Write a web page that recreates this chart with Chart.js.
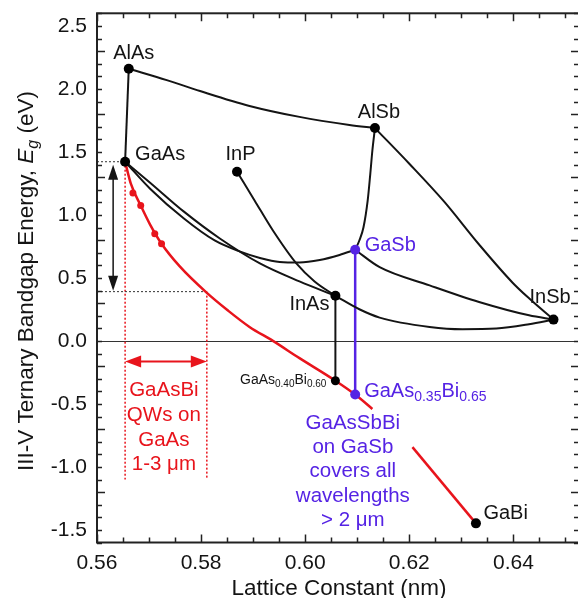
<!DOCTYPE html>
<html>
<head>
<meta charset="utf-8">
<script src="https://cdn.jsdelivr.net/npm/chart.js@4.4.0/dist/chart.umd.min.js"></script>
<style>
  html, body { margin: 0; padding: 0; background: #fff; overflow: hidden; }
  #wrap { width: 584px; height: 598px; }
</style>
</head>
<body>
<div id="wrap"><canvas id="chart" width="584" height="598"></canvas></div>
<script>
// Binary compounds: lattice constant (nm) and bandgap (eV)
const binaryNames = ["AlAs", "GaAs", "InP", "AlSb", "GaSb", "InAs", "InSb", "GaBi"];
const binaryLattice = [0.5661, 0.5654, 0.5869, 0.6134, 0.6096, 0.6058, 0.6477, 0.6328];
const binaryGap = [2.160, 1.422, 1.343, 1.689, 0.723, 0.358, 0.169, -1.448];

// Ternary curves
const alasGaasA = [0.5661, 0.5654];
const alasGaasEg = [2.160, 1.422];
const alasAlsbA = [0.5661, 0.5734, 0.5798, 0.5893, 0.5989, 0.6085, 0.6134];
const alasAlsbEg = [2.160, 2.070, 1.983, 1.865, 1.778, 1.714, 1.689];
const alsbGasbA = [0.6134, 0.6129, 0.6125, 0.6120, 0.6112, 0.6104, 0.6096];
const alsbGasbEg = [1.689, 1.509, 1.324, 1.113, 0.902, 0.797, 0.723];
const alsbInsbA = [0.6134, 0.6200, 0.6267, 0.6334, 0.6398, 0.6430, 0.6477];
const alsbInsbEg = [1.689, 1.406, 1.105, 0.765, 0.464, 0.338, 0.169];
const gasbInsbA = [0.6096, 0.6143, 0.6239, 0.6334, 0.6430, 0.6477];
const gasbInsbEg = [0.723, 0.585, 0.441, 0.309, 0.203, 0.169];
const inasInsbA = [0.6058, 0.6104, 0.6143, 0.6239, 0.6302, 0.6367, 0.6430, 0.6477];
const inasInsbEg = [0.358, 0.251, 0.185, 0.111, 0.093, 0.098, 0.132, 0.169];
const gaasGasbA = [0.5654, 0.5702, 0.5767, 0.5826, 0.5874, 0.5913, 0.5951, 0.5989, 0.6028, 0.6066, 0.6096];
const gaasGasbEg = [1.422, 1.208, 0.971, 0.797, 0.710, 0.658, 0.627, 0.623, 0.642, 0.682, 0.723];
const gaasInasA = [0.5654, 0.5702, 0.5767, 0.5836, 0.5913, 0.5989, 0.6058];
const gaasInasEg = [1.422, 1.256, 1.026, 0.813, 0.615, 0.472, 0.358];
const inpInasA = [0.5869, 0.5903, 0.5938, 0.5983, 0.6018, 0.6058];
const inpInasEg = [1.343, 1.113, 0.876, 0.615, 0.472, 0.358];

// GaAsBi (red): fitted line and measured points
const gaasbiA = [0.5654, 0.5665, 0.5684, 0.5702, 0.5724, 0.5759, 0.5810, 0.5851, 0.5893, 0.5938, 0.5989, 0.6058, 0.6096, 0.6129];
const gaasbiEg = [1.422, 1.248, 1.074, 0.923, 0.771, 0.591, 0.385, 0.243, 0.111, 0.000, -0.137, -0.316, -0.426, -0.540];
const gabiTailA = [0.6206, 0.6328];
const gabiTailEg = [-0.843, -1.448];
const gaasbiMeasA = [0.5669, 0.5684, 0.5711, 0.5724];
const gaasbiMeasEg = [1.174, 1.074, 0.850, 0.771];

// Lattice matched bismides
const inasMatchA = [0.6058, 0.6058];
const inasMatchEg = [0.358, -0.316];
const gasbMatchA = [0.6096, 0.6096];
const gasbMatchEg = [0.723, -0.426];
const bismideA = [0.6058, 0.6096];
const bismideEg = [-0.316, -0.426];

// GaAsBi QW window on GaAs
const qwA = [0.5654, 0.5811];
const qwEg = [1.422, 0.391];
const qwBottomEg = -1.10;
const qwArrowEg = -0.163;
const gapArrowA = 0.5631;

const xTicks = [0.56, 0.58, 0.60, 0.62, 0.64];
const yTicks = [-1.5, -1.0, -0.5, 0.0, 0.5, 1.0, 1.5, 2.0, 2.5];

const RED = "#e8141c";
const BLUE = "#5523e4";
const INK = "#141414";
const FONT = '"Liberation Sans", Arial, sans-serif';

function pts(xs, ys) {
    return xs.map((x, i) => ({ x: x, y: ys[i] }));
}

function curve(xs, ys, color, width, extra) {
    return Object.assign({
        data: pts(xs, ys),
        showLine: true,
        borderColor: color,
        borderWidth: width,
        pointRadius: 0,
        cubicInterpolationMode: "monotone",
        fill: false,
        order: 2
    }, extra || {});
}

// Draw text made of normal and subscript pieces
function drawRich(ctx, parts, x, y, align, size, subSize, drop, color) {
    ctx.fillStyle = color;
    ctx.textBaseline = "middle";
    ctx.textAlign = "left";
    let total = 0;
    parts.forEach(p => {
        ctx.font = (p[1] ? subSize : size) + "px " + FONT;
        total += ctx.measureText(p[0]).width;
    });
    let cx = align === "center" ? x - total / 2 : align === "right" ? x - total : x;
    parts.forEach(p => {
        ctx.font = (p[1] ? subSize : size) + "px " + FONT;
        ctx.fillText(p[0], cx, p[1] ? y + drop : y);
        cx += ctx.measureText(p[0]).width;
    });
}

function arrowHead(ctx, tx, ty, dx, dy, len, half) {
    const nx = -dy, ny = dx;
    ctx.beginPath();
    ctx.moveTo(tx, ty);
    ctx.lineTo(tx - dx * len + nx * half, ty - dy * len + ny * half);
    ctx.lineTo(tx - dx * len - nx * half, ty - dy * len - ny * half);
    ctx.closePath();
    ctx.fill();
}

// label placement relative to each binary point (pixels)
const labelPlace = {
    AlAs: [5, -15.5, "center"],
    GaAs: [10, -7.5, "left"],
    InP: [3.5, -17.5, "center"],
    AlSb: [4, -16, "center"],
    GaSb: [9.5, -4.5, "left"],
    InAs: [-6, 8.5, "right"],
    InSb: [-24, -22.5, "left"],
    GaBi: [7.5, -10, "left"]
};

const decorPlugin = {
    id: "decor",
    beforeDatasetsDraw(chart) {
        const { ctx, chartArea: a, scales: { y } } = chart;
        ctx.save();
        ctx.strokeStyle = "#333";
        ctx.lineWidth = 1;
        const y0 = Math.round(y.getPixelForValue(0)) + 0.5;
        ctx.beginPath();
        ctx.moveTo(a.left, y0);
        ctx.lineTo(a.right, y0);
        ctx.stroke();
        ctx.restore();
    },
    afterDatasetsDraw(chart) {
        const { ctx, chartArea: a, scales: { x, y } } = chart;
        ctx.save();

        // Frame with inward ticks on all sides
        ctx.strokeStyle = "#222";
        ctx.lineWidth = 2;
        ctx.strokeRect(a.left, a.top, a.right - a.left, a.bottom - a.top);
        ctx.lineWidth = 1.5;
        ctx.beginPath();
        for (let i = 0; i <= 19; i++) {
            const v = 0.56 + i * 0.005;
            const px = Math.round(x.getPixelForValue(v)) + 0.5;
            if (px > a.right) break;
            const len = i % 4 === 0 ? 8 : 5;
            ctx.moveTo(px, a.bottom); ctx.lineTo(px, a.bottom - len);
            ctx.moveTo(px, a.top); ctx.lineTo(px, a.top + len);
        }
        for (let i = 0; i <= 42; i++) {
            const v = -1.6 + i * 0.1;
            const py = Math.round(y.getPixelForValue(v)) + 0.5;
            const len = (i + 1) % 5 === 0 ? 8 : 5;
            ctx.moveTo(a.left, py); ctx.lineTo(a.left + len, py);
            ctx.moveTo(a.right, py); ctx.lineTo(a.right - len, py);
        }
        ctx.stroke();

        // Black double arrow: GaAsBi QW bandgap range
        const ax = x.getPixelForValue(gapArrowA);
        const aTop = y.getPixelForValue(qwEg[0]) + 3;
        const aBot = y.getPixelForValue(qwEg[1]) - 1;
        ctx.strokeStyle = INK;
        ctx.fillStyle = INK;
        ctx.lineWidth = 1.5;
        ctx.beginPath();
        ctx.moveTo(ax, aTop + 12); ctx.lineTo(ax, aBot - 12);
        ctx.stroke();
        arrowHead(ctx, ax, aTop, 0, -1, 15, 5);
        arrowHead(ctx, ax, aBot, 0, 1, 15, 5);

        // Red double arrow: lattice range
        const ry = y.getPixelForValue(qwArrowEg);
        const rl = x.getPixelForValue(qwA[0]);
        const rr = x.getPixelForValue(qwA[1]);
        ctx.strokeStyle = RED;
        ctx.fillStyle = RED;
        ctx.lineWidth = 2;
        ctx.beginPath();
        ctx.moveTo(rl + 12, ry); ctx.lineTo(rr - 12, ry);
        ctx.stroke();
        arrowHead(ctx, rl, ry, -1, 0, 16, 6);
        arrowHead(ctx, rr, ry, 1, 0, 16, 6);

        // Binary labels
        binaryNames.forEach((name, i) => {
            const p = labelPlace[name];
            const px = x.getPixelForValue(binaryLattice[i]) + p[0];
            const py = y.getPixelForValue(binaryGap[i]) + p[1];
            ctx.font = "20px " + FONT;
            ctx.fillStyle = name === "GaSb" ? BLUE : INK;
            ctx.textAlign = p[2];
            ctx.textBaseline = "middle";
            ctx.fillText(name, px, py);
        });

        // Quaternary endpoint labels
        const q1x = x.getPixelForValue(bismideA[0]) - 9;
        const q1y = y.getPixelForValue(bismideEg[0]) - 0.5;
        drawRich(ctx, [["GaAs"], ["0.40", true], ["Bi"], ["0.60", true]], q1x, q1y, "right", 14, 10, 4, INK);
        const q2x = x.getPixelForValue(bismideA[1]) + 9;
        const q2y = y.getPixelForValue(bismideEg[1]) - 3;
        drawRich(ctx, [["GaAs"], ["0.35", true], ["Bi"], ["0.65", true]], q2x, q2y, "left", 20, 14, 6, BLUE);

        // Annotation blocks
        const qwLines = ["GaAsBi", "QWs on", "GaAs", "1-3 \u03bcm"];
        const qcx = x.getPixelForValue(0.57285);
        const qcy = y.getPixelForValue(-0.394);
        ctx.font = "20.5px " + FONT;
        ctx.fillStyle = RED;
        ctx.textAlign = "center";
        ctx.textBaseline = "middle";
        qwLines.forEach((t, i) => ctx.fillText(t, qcx, qcy + i * 24.7));

        const sbLines = ["GaAsSbBi", "on GaSb", "covers all", "wavelengths", "> 2 \u03bcm"];
        const scx = x.getPixelForValue(0.60915);
        const scy = y.getPixelForValue(-0.655);
        ctx.fillStyle = BLUE;
        sbLines.forEach((t, i) => ctx.fillText(t, scx, scy + i * 24.2));

        // Axis titles
        ctx.font = "22.5px " + FONT;
        ctx.fillStyle = INK;
        ctx.textAlign = "center";
        ctx.textBaseline = "alphabetic";
        ctx.fillText("Lattice Constant (nm)", (a.left + 580) / 2 + 0.5, 595);

        ctx.translate(33, 281);
        ctx.rotate(-Math.PI / 2);
        const parts = [["III-V Ternary Bandgap Energy, "], ["E", false, true], ["g", true, true], [" (eV)"]];
        let total = 0;
        parts.forEach(p => {
            ctx.font = (p[2] ? "italic " : "") + (p[1] ? 16 : 22.5) + "px " + FONT;
            total += ctx.measureText(p[0]).width;
        });
        let cx = -total / 2;
        ctx.textAlign = "left";
        parts.forEach(p => {
            ctx.font = (p[2] ? "italic " : "") + (p[1] ? 16 : 22.5) + "px " + FONT;
            ctx.fillText(p[0], cx, p[1] ? 5 : 0);
            cx += ctx.measureText(p[0]).width;
        });
        ctx.restore();
    }
};

const dotted = { borderDash: [2, 2], cubicInterpolationMode: "default", tension: 0, order: 3 };
const straight = { cubicInterpolationMode: "default", tension: 0 };

new Chart(document.getElementById("chart"), {
    type: "scatter",
    data: {
        datasets: [
            curve(alasGaasA, alasGaasEg, INK, 2, straight),
            curve(alasAlsbA, alasAlsbEg, INK, 2),
            curve(alsbGasbA, alsbGasbEg, INK, 2),
            curve(alsbInsbA, alsbInsbEg, INK, 2),
            curve(gasbInsbA, gasbInsbEg, INK, 2),
            curve(inasInsbA, inasInsbEg, INK, 2),
            curve(gaasGasbA, gaasGasbEg, INK, 2),
            curve(gaasInasA, gaasInasEg, INK, 2),
            curve(inpInasA, inpInasEg, INK, 2),
            curve(inasMatchA, inasMatchEg, INK, 2, straight),
            curve(gasbMatchA, gasbMatchEg, BLUE, 2.5, straight),
            curve(gaasbiA, gaasbiEg, RED, 2.5),
            curve(gabiTailA, gabiTailEg, RED, 2.5, straight),
            // dotted guide lines
            curve([0.56, qwA[0]], [qwEg[0], qwEg[0]], "#333", 1, dotted),
            curve([0.56, qwA[1]], [qwEg[1], qwEg[1]], "#333", 1, dotted),
            curve([qwA[0], qwA[0]], [qwEg[0], qwBottomEg], RED, 1.5, dotted),
            curve([qwA[1], qwA[1]], [qwEg[1], qwBottomEg], RED, 1.5, dotted),
            // markers
            {
                data: pts(gaasbiMeasA, gaasbiMeasEg),
                pointRadius: 3.5,
                pointBackgroundColor: RED,
                pointBorderWidth: 0,
                order: 1
            },
            {
                data: pts(binaryLattice, binaryGap),
                pointRadius: 5,
                pointBackgroundColor: binaryNames.map(n => n === "GaSb" ? BLUE : "#000"),
                pointBorderWidth: 0,
                order: 0
            },
            {
                data: pts(bismideA, bismideEg),
                pointRadius: [4.5, 5],
                pointBackgroundColor: ["#000", BLUE],
                pointBorderWidth: 0,
                order: 0
            }
        ]
    },
    options: {
        responsive: false,
        animation: false,
        devicePixelRatio: 1,
        layout: { padding: { left: 0, right: 4, top: 13.3, bottom: 0 } },
        plugins: {
            legend: { display: false },
            tooltip: { enabled: false }
        },
        scales: {
            x: {
                type: "linear",
                min: 0.56,
                max: 0.6526,
                afterBuildTicks: s => { s.ticks = xTicks.map(v => ({ value: v })); },
                afterFit: s => {
                    s.height = 55.5;
                    s.paddingLeft = 0;
                    s.paddingRight = 0;
                },
                grid: { display: false, drawTicks: false },
                border: { display: false },
                ticks: {
                    padding: 8,
                    autoSkip: false,
                    maxRotation: 0,
                    color: INK,
                    font: { family: FONT, size: 21 },
                    callback: v => Number(v).toFixed(2)
                }
            },
            y: {
                type: "linear",
                min: -1.6,
                max: 2.6,
                afterBuildTicks: s => { s.ticks = yTicks.map(v => ({ value: v })); },
                afterFit: s => {
                    s.width = 97;
                    s.paddingTop = 0;
                    s.paddingBottom = 0;
                },
                grid: { display: false, drawTicks: false },
                border: { display: false },
                ticks: {
                    padding: 10,
                    color: INK,
                    font: { family: FONT, size: 21 },
                    callback: v => Number(v).toFixed(1)
                }
            }
        }
    },
    plugins: [decorPlugin]
});
</script>
</body>
</html>
